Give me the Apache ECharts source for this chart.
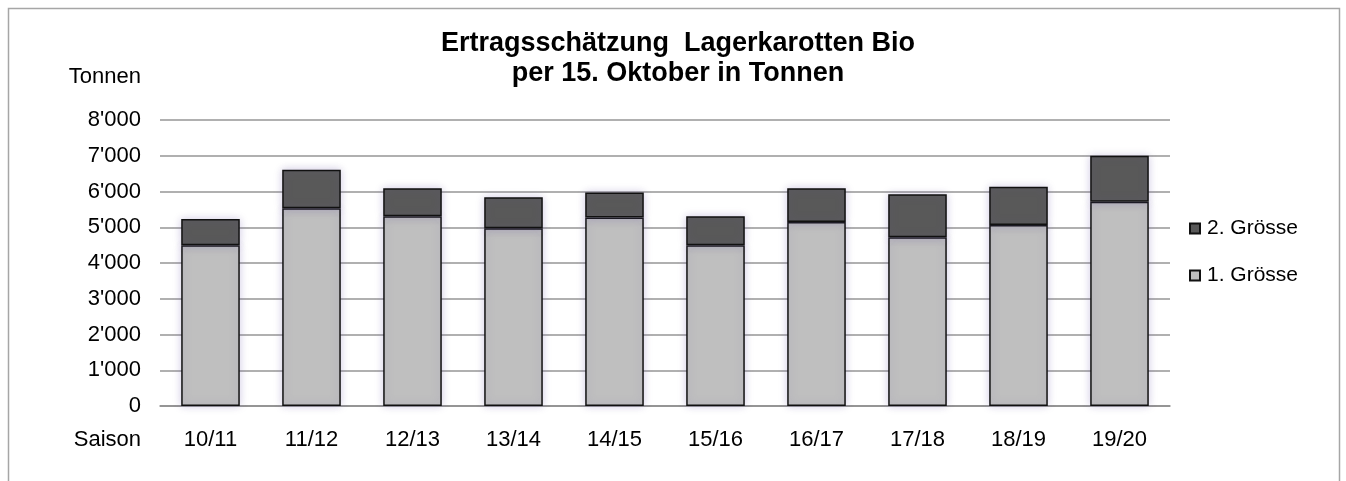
<!DOCTYPE html>
<html>
<head>
<meta charset="utf-8">
<script src="https://cdn.jsdelivr.net/npm/echarts@6/dist/echarts.min.js"></script>
<style>
  html, body { margin: 0; padding: 0; background: #fff; }
  #chart { width: 1346px; height: 481px; }
</style>
</head>
<body>
<div id="chart"></div>
<script>
// Saisons und geschätzte Mengen (Tonnen)
var seasons = ['10/11', '11/12', '12/13', '13/14', '14/15', '15/16', '16/17', '17/18', '18/19', '19/20'];
var size1 = [4500, 5530, 5310, 4970, 5270, 4500, 5150, 4720, 5060, 5710];
var size2 = [730, 1080, 780, 870, 700, 810, 940, 1200, 1070, 1290];
var legendNames = ['2. Grösse', '1. Grösse'];

var font = '"Liberation Sans", Arial, sans-serif';
var myChart = echarts.init(document.getElementById('chart'));

function fmt(v) {
  // Tausendertrennzeichen mit Apostroph
  return String(v).replace(/\B(?=(\d{3})+(?!\d))/g, "'");
}

var barStyle = function (color) {
  return {
    color: color,
    borderColor: '#111',
    borderWidth: 1.5,
    shadowBlur: 8,
    shadowColor: 'rgba(110, 90, 170, 0.3)'
  };
};

var option = {
  animation: false,
  textStyle: { fontFamily: font },
  grid: { left: 160, right: 176, top: 120, bottom: 75 },
  legend: {
    data: legendNames,
    orient: 'vertical',
    left: 1184,
    top: 213,
    itemWidth: 10,
    itemHeight: 10,
    itemGap: 26,
    icon: 'rect',
    textStyle: { fontSize: 21, color: '#000', fontFamily: font, padding: [0, 0, 0, 2] }
  },
  xAxis: {
    type: 'category',
    data: seasons,
    axisTick: { show: false },
    axisLine: { lineStyle: { color: '#8c8c8c', width: 1.5 } },
    axisLabel: { fontSize: 22, color: '#000', margin: 23 }
  },
  yAxis: {
    type: 'value',
    min: 0,
    max: 8000,
    interval: 1000,
    axisLine: { show: false },
    axisTick: { show: false },
    splitLine: { lineStyle: { color: '#969696', width: 1.5 } },
    axisLabel: { fontSize: 22, color: '#000', margin: 19, formatter: fmt }
  },
  series: [
    {
      name: '1. Grösse',
      type: 'bar',
      stack: 'total',
      barWidth: '58%',
      itemStyle: barStyle('#bfbfbf'),
      data: size1
    },
    {
      name: '2. Grösse',
      type: 'bar',
      stack: 'total',
      itemStyle: barStyle('#595959'),
      data: size2
    }
  ],
  graphic: [
    {
      type: 'rect',
      shape: { x: 8.5, y: 8.5, width: 1331, height: 600 },
      style: { fill: null, stroke: '#a6a6a6', lineWidth: 1.5 },
      silent: true
    },
    {
      type: 'text', x: 678, y: 44,
      style: { text: 'Ertragsschätzung  Lagerkarotten Bio', font: 'bold 27px ' + font, fill: '#000', textAlign: 'center', textVerticalAlign: 'middle' }
    },
    {
      type: 'text', x: 678, y: 74,
      style: { text: 'per 15. Oktober in Tonnen', font: 'bold 27px ' + font, fill: '#000', textAlign: 'center', textVerticalAlign: 'middle' }
    },
    {
      type: 'text', x: 141, y: 77,
      style: { text: 'Tonnen', font: '22px ' + font, fill: '#000', textAlign: 'right', textVerticalAlign: 'middle' }
    },
    {
      type: 'text', x: 141, y: 440,
      style: { text: 'Saison', font: '22px ' + font, fill: '#000', textAlign: 'right', textVerticalAlign: 'middle' }
    }
  ]
};

myChart.setOption(option);
</script>
</body>
</html>
